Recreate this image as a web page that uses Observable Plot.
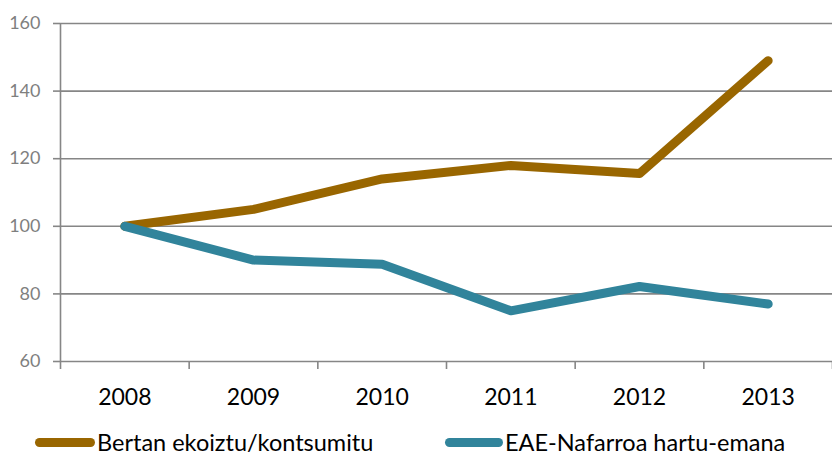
<!DOCTYPE html>
<html>
<head>
<meta charset="utf-8">
<script src="https://cdn.jsdelivr.net/npm/d3@7"></script>
<script src="https://cdn.jsdelivr.net/npm/@observablehq/plot@0.6"></script>
<style>
  body { margin: 0; background: #fff; font-family: Lato, sans-serif; }
  #wrap { position: relative; width: 832px; height: 457px; }
  #legend { position: absolute; left: 0; top: 432px; width: 832px; height: 20px; font-size: 23.5px; line-height: 20px; color: #000; }
  .item { position: absolute; top: 0; display: flex; align-items: center; height: 20px; white-space: nowrap; }
  .sw { display: inline-block; width: 60px; height: 9px; border-radius: 5px; margin-right: 2px; }
</style>
</head>
<body>
<div id="wrap"></div>
<script>
const years = [2008, 2009, 2010, 2011, 2012, 2013];
const bertan = [100, 105, 114, 118, 115.6, 149];
const eae = [100, 90, 88.8, 75, 82.2, 77];
const seriesNames = ["Bertan ekoiztu/kontsumitu", "EAE-Nafarroa hartu-emana"];
const seriesColors = ["#996600", "#31849B"];
const yTicks = [60, 80, 100, 120, 140, 160];

const data = [
  ...years.map((y, i) => ({year: y, value: bertan[i], series: seriesNames[0]})),
  ...years.map((y, i) => ({year: y, value: eae[i], series: seriesNames[1]}))
];
const bounds = [...years.map(y => y - 0.5), years[years.length - 1] + 0.5];

const chart = Plot.plot({
  width: 832,
  height: 420,
  marginTop: 23,
  marginBottom: 59,
  marginLeft: 60,
  marginRight: 0,
  style: {fontFamily: "Lato, sans-serif", background: "#fff"},
  x: {domain: [years[0] - 0.5, years[years.length - 1] + 0.5]},
  y: {domain: [60, 160]},
  color: {domain: seriesNames, range: seriesColors},
  marks: [
    Plot.ruleY(yTicks, {stroke: "#868686", strokeWidth: 1.6}),
    Plot.axisY({ticks: yTicks, tickSize: 7, tickPadding: 13, stroke: "#868686", strokeWidth: 1.6, fill: "#7f7f7f", fontSize: 18, label: null}),
    Plot.ruleX([bounds[0]], {y1: 60, y2: 160, stroke: "#868686", strokeWidth: 1.6}),
    Plot.axisX({ticks: bounds, tickSize: 8, tickFormat: () => "", stroke: "#868686", strokeWidth: 1.6, label: null}),
    Plot.axisX({ticks: years, tickSize: 0, tickPadding: 27, tickFormat: "d", fill: "#000", fontSize: 23, label: null}),
    Plot.lineY(data, {x: "year", y: "value", z: "series", stroke: "series", strokeWidth: 9, strokeLinecap: "round", strokeLinejoin: "round"})
  ]
});
const wrap = document.getElementById("wrap");
wrap.appendChild(chart);

const legend = document.createElement("div");
legend.id = "legend";
const lefts = [35, 445];
seriesNames.forEach((name, i) => {
  const item = document.createElement("div");
  item.className = "item";
  item.style.left = lefts[i] + "px";
  const sw = document.createElement("span");
  sw.className = "sw";
  sw.style.background = seriesColors[i];
  if (i === 1) sw.style.width = "58px";
  item.appendChild(sw);
  const t = document.createElement("span");
  t.textContent = name;
  item.appendChild(t);
  legend.appendChild(item);
});
wrap.appendChild(legend);
</script>
</body>
</html>
